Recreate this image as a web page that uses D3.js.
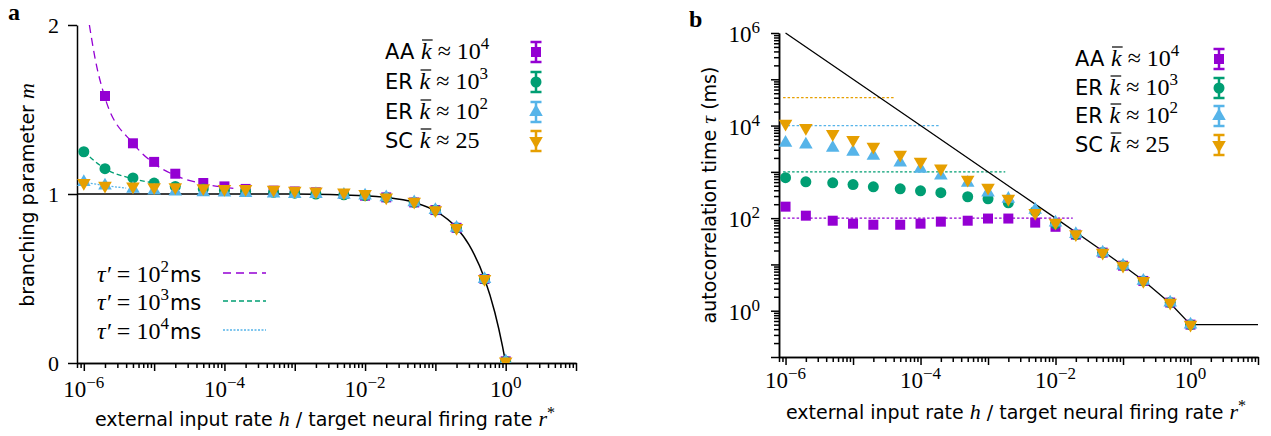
<!DOCTYPE html>
<html>
<head>
<meta charset="utf-8">
<script src="https://cdn.jsdelivr.net/npm/d3@7"></script>
<style>
    body { margin: 0; background: #fff; }
    .sans { font-family: "DejaVu Sans", sans-serif; }
    .serif { font-family: "Liberation Serif", serif; }
</style>
</head>
<body>
<svg id="chart" width="1271" height="436"></svg>
<script>
//^ DATA //
const hValues = [1e-6, 2e-6, 5e-6, 1e-5, 2e-5, 5e-5, 1e-4, 2e-4, 5e-4, 1e-3, 2e-3, 5e-3, 1e-2, 2e-2, 5e-2, 0.1, 0.2, 0.5, 1];

const seriesNames = ["AA", "ER", "ER", "SC"];
const seriesKBase = ["10", "10", "10", "25"];
const seriesKSup = ["4", "3", "2", ""];
const seriesColors = ["#9400d3", "#009e73", "#56b4e9", "#e69f00"];

// panel a: branching parameter m
const mAA = [2.4, 1.58, 1.30, 1.19, 1.12, 1.065, 1.045, 1.03, 1.02, 1.015, 1.01, 1.0, 0.99, 0.98, 0.95, 0.905, 0.80, 0.497, 0.01];
const mER3 = [1.25, 1.15, 1.095, 1.065, 1.045, 1.03, 1.02, 1.015, 1.01, 1.005, 1.0, 0.995, 0.99, 0.98, 0.95, 0.905, 0.80, 0.497, 0.01];
const mER2 = [1.07, 1.05, 1.03, 1.02, 1.015, 1.01, 1.008, 1.005, 1.003, 1.0, 1.0, 0.995, 0.99, 0.98, 0.95, 0.905, 0.80, 0.497, 0.01];
const mSC = [1.065, 1.05, 1.045, 1.04, 1.04, 1.035, 1.03, 1.03, 1.025, 1.02, 1.015, 1.01, 1.0, 0.98, 0.955, 0.905, 0.80, 0.497, 0.01];

// panel a: theory curves
const theoryAH = [8e-7, 1e-3, 1e-2, 2e-2, 5e-2, 0.1, 0.2, 0.3, 0.5, 0.7, 0.9, 1];
const theoryAM = [1.0, 1.0, 0.99, 0.98, 0.95, 0.9, 0.8, 0.7, 0.5, 0.3, 0.1, 0];
const tauPrimeExp = ["2", "3", "4"];
const dashH100 = [1.2e-6, 1.45e-6, 2e-6, 5e-6, 1e-5, 2e-5, 5e-5, 1e-4, 1.5e-4];
const dashM100 = [2.0, 1.8, 1.57, 1.30, 1.18, 1.11, 1.06, 1.04, 1.03];
const dashH1000 = [1e-6, 2e-6, 5e-6, 1e-5];
const dashM1000 = [1.25, 1.15, 1.09, 1.065];
const dashH10000 = [1e-6, 2e-6, 4e-6];
const dashM10000 = [1.07, 1.05, 1.035];

// panel b: autocorrelation time tau (ms)
const tAA = [177, 113, 88, 76, 72, 72, 76, 84, 88, 98, 98, 80, 65, 44, 18, 9.4, 4.4, 1.5, 0.5];
const tER3 = [750, 610, 580, 530, 475, 430, 390, 355, 290, 262, 215, 140, 75, 44, 18, 9.4, 4.4, 1.5, 0.5];
const tER2 = [4260, 3880, 3300, 2700, 2230, 1580, 1170, 830, 580, 355, 260, 151, 80, 45, 18, 9.4, 4.4, 1.5, 0.5];
const tSC = [11000, 8900, 6600, 4900, 3500, 2350, 1660, 1180, 680, 455, 262, 130, 80, 45, 18, 9.4, 4.4, 1.5, 0.5];

const theoryBH = [1e-6, 1e-4, 1e-2, 5e-2, 0.1, 0.2, 0.5, 1, 10];
const theoryBT = [1e6, 1e4, 100, 19.5, 9.5, 4.5, 1.45, 0.5, 0.5];
const plateauLevels = [1e2, 1e3, 1e4, 4e4];
const plateauEndH = [1.8e-2, 1.8e-3, 1.9e-4, 4.1e-5];

//^ SVG //
const svg = d3.select("#chart");

const xA = d3.scaleLog().domain([8e-7, 10]).range([77, 576]);
const yA = d3.scaleLinear().domain([0, 2]).range([363, 25]);
const xB = d3.scaleLog().domain([8e-7, 10]).range([779, 1258]);
const yB = d3.scaleLog().domain([0.1, 1e6]).range([357, 33]);

const isDecade = (v) => Math.abs(Math.log10(v) - Math.round(Math.log10(v))) < 1e-6;

const symbols = [d3.symbolSquare, d3.symbolCircle, d3.symbolTriangle, d3.symbolTriangle];
const symbolSizes = [100, 95, 80, 80];
const symbolPath = (i) => d3.symbol().type(symbols[i]).size(symbolSizes[i])();
const symbolTransform = (x, y, i) => `translate(${x},${y})` + (i === 3 ? " rotate(180)" : "");

function styleAxis(g) {
    g.selectAll("line, path").attr("stroke", "#000").attr("stroke-width", 1.5);
}

function powerLabel(g, x, y, exp, anchor) {
    const t = g.append("text").attr("class", "serif").attr("x", x).attr("y", y)
        .attr("text-anchor", anchor).attr("font-size", 23);
    t.append("tspan").text("10");
    t.append("tspan").attr("dy", -9).attr("font-size", 17).text(exp);
    return t;
}

function drawLogX(x, y0) {
    const all = x.ticks();
    const major = all.filter(isDecade);
    const minor = all.filter((v) => !isDecade(v));
    const g = svg.append("g").attr("transform", `translate(0,${y0})`);
    g.append("g").call(d3.axisBottom(x).tickValues(minor).tickSize(5).tickFormat("").tickSizeOuter(0));
    g.append("g").call(d3.axisBottom(x).tickValues(major).tickSize(8).tickFormat("").tickSizeOuter(0));
    styleAxis(g);
    return major.filter((v) => Math.round(Math.log10(v)) % 2 === 0);
}

//! PANEL A //
const labelsA = drawLogX(xA, 363);
labelsA.forEach((v) => {
    const e = Math.round(Math.log10(v));
    powerLabel(svg, xA(v), 397, e < 0 ? "\u2212" + -e : String(e), "middle");
});

const yAxisA = svg.append("g").attr("transform", "translate(77,0)")
    .call(d3.axisLeft(yA).tickValues([0, 1, 2]).tickFormat(d3.format("d"))
        .tickSize(9).tickPadding(9).tickSizeOuter(0));
styleAxis(yAxisA);
yAxisA.selectAll("text").attr("class", "serif").attr("font-size", 22).attr("fill", "#000").attr("dy", "0.36em");

svg.append("defs").append("clipPath").attr("id", "clipA")
    .append("rect").attr("x", 77).attr("y", 25).attr("width", 500).attr("height", 338);

const plotA = svg.append("g").attr("clip-path", "url(#clipA)");

const lineA = d3.line().x((d) => xA(d[0])).y((d) => yA(d[1])).curve(d3.curveMonotoneX);

plotA.append("path").datum(d3.zip(theoryAH, theoryAM)).attr("d", lineA)
    .attr("fill", "none").attr("stroke", "#000").attr("stroke-width", 1.5);

const dashStyles = ["8,5", "5,3", "2,1.5"];
const dashSets = [d3.zip(dashH100, dashM100), d3.zip(dashH1000, dashM1000), d3.zip(dashH10000, dashM10000)];
dashSets.forEach((set, i) => {
    plotA.append("path").datum(set).attr("d", lineA)
        .attr("fill", "none").attr("stroke", seriesColors[i])
        .attr("stroke-width", 1.3).attr("stroke-dasharray", dashStyles[i]);
});

[mAA, mER3, mER2, mSC].forEach((vals, i) => {
    plotA.append("g").selectAll("path").data(d3.zip(hValues, vals)).enter().append("path")
        .attr("d", symbolPath(i))
        .attr("transform", (d) => symbolTransform(xA(d[0]), yA(d[1]), i))
        .attr("fill", seriesColors[i]);
});

svg.append("text").attr("class", "serif").attr("x", 8).attr("y", 20)
    .attr("font-size", 24).attr("font-weight", "bold").text("a");

const yLabelA = svg.append("text").attr("class", "sans").attr("font-size", 19)
    .attr("transform", "translate(34,195) rotate(-90)").attr("text-anchor", "middle");
yLabelA.append("tspan").text("branching parameter ");
yLabelA.append("tspan").attr("class", "serif").attr("font-style", "italic").attr("font-size", 22).text("m");

function xLabel(cx, y) {
    const t = svg.append("text").attr("class", "sans").attr("font-size", 19)
        .attr("x", cx).attr("y", y).attr("text-anchor", "middle");
    t.append("tspan").text("external input rate ");
    t.append("tspan").attr("class", "serif").attr("font-style", "italic").attr("font-size", 22).text("h");
    t.append("tspan").text(" / target neural firing rate ");
    t.append("tspan").attr("class", "serif").attr("font-style", "italic").attr("font-size", 22).text("r");
    t.append("tspan").attr("class", "serif").attr("font-size", 16).attr("dy", -8).text("*");
}
xLabel(325, 426);

// legend: series
function seriesLegend(xText, xMarker, baselines) {
    seriesNames.forEach((name, i) => {
        const y = baselines[i];
        const t = svg.append("text").attr("class", "sans").attr("font-size", 21).attr("x", xText).attr("y", y);
        t.append("tspan").text(name + " ");
        t.append("tspan").attr("class", "serif").attr("font-style", "italic").attr("font-size", 24).text("k");
        t.append("tspan").attr("class", "serif").attr("font-size", 24).text(" \u2248 " + seriesKBase[i]);
        if (seriesKSup[i]) t.append("tspan").attr("class", "serif").attr("font-size", 17).attr("dy", -10).text(seriesKSup[i]);
        const kIndex = name.length + 1;
        const node = t.node();
        const x0 = node.getStartPositionOfChar(kIndex).x;
        const x1 = node.getEndPositionOfChar(kIndex).x;
        svg.append("line").attr("x1", x0 + 1).attr("x2", x1 + 1).attr("y1", y - 19).attr("y2", y - 19)
            .attr("stroke", "#000").attr("stroke-width", 1.2);

        const cy = y - 7;
        const g = svg.append("g").attr("stroke", seriesColors[i]).attr("stroke-width", 2.5);
        g.append("line").attr("x1", xMarker).attr("x2", xMarker).attr("y1", cy - 10).attr("y2", cy + 10);
        g.append("line").attr("x1", xMarker - 5.5).attr("x2", xMarker + 5.5).attr("y1", cy - 10).attr("y2", cy - 10);
        g.append("line").attr("x1", xMarker - 5.5).attr("x2", xMarker + 5.5).attr("y1", cy + 10).attr("y2", cy + 10);
        svg.append("path").attr("d", symbolPath(i)).attr("transform", symbolTransform(xMarker, cy, i))
            .attr("fill", seriesColors[i]);
    });
}
seriesLegend(385, 536, [59, 89, 119, 148]);

// legend: tau'
const tauBaselines = [282, 310, 339];
tauPrimeExp.forEach((e, i) => {
    const y = tauBaselines[i];
    const t = svg.append("text").attr("class", "serif").attr("font-size", 24).attr("x", 97).attr("y", y);
    t.append("tspan").attr("font-style", "italic").text("\u03c4\u2032");
    t.append("tspan").text(" = 10");
    t.append("tspan").attr("font-size", 17).attr("dy", -10).text(e);
    t.append("tspan").attr("class", "sans").attr("font-size", 21).attr("dy", 10).attr("dx", 1).text("ms");
    svg.append("line").attr("x1", 223).attr("x2", 266).attr("y1", y - 9).attr("y2", y - 9)
        .attr("stroke", seriesColors[i]).attr("stroke-width", 1.3).attr("stroke-dasharray", dashStyles[i]);
});

//! PANEL B //
const labelsB = drawLogX(xB, 357);
labelsB.forEach((v) => {
    const e = Math.round(Math.log10(v));
    powerLabel(svg, xB(v), 388, e < 0 ? "\u2212" + -e : String(e), "middle");
});

const yTicksB = yB.ticks();
const yMajorB = yTicksB.filter(isDecade);
const yMinorB = yTicksB.filter((v) => !isDecade(v));
const yAxisB = svg.append("g").attr("transform", "translate(779,0)");
yAxisB.append("g").call(d3.axisLeft(yB).tickValues(yMinorB).tickSize(5).tickFormat("").tickSizeOuter(0));
yAxisB.append("g").call(d3.axisLeft(yB).tickValues(yMajorB).tickSize(8).tickFormat("").tickSizeOuter(0));
styleAxis(yAxisB);
yMajorB.filter((v) => Math.round(Math.log10(v)) % 2 === 0 && v >= 1).forEach((v) => {
    powerLabel(svg, 760, yB(v) + 9, String(Math.round(Math.log10(v))), "end");
});

const lineB = d3.line().x((d) => xB(d[0])).y((d) => yB(d[1]));

plateauLevels.forEach((lvl, i) => {
    svg.append("line").attr("x1", xB(9.2e-7)).attr("x2", xB(plateauEndH[i]))
        .attr("y1", yB(lvl)).attr("y2", yB(lvl))
        .attr("stroke", seriesColors[i]).attr("stroke-width", 1.3).attr("stroke-dasharray", "2.5,2");
});

svg.append("path").datum(d3.zip(theoryBH, theoryBT)).attr("d", lineB)
    .attr("fill", "none").attr("stroke", "#000").attr("stroke-width", 1.3);

[tAA, tER3, tER2, tSC].forEach((vals, i) => {
    svg.append("g").selectAll("path").data(d3.zip(hValues, vals)).enter().append("path")
        .attr("d", symbolPath(i))
        .attr("transform", (d) => symbolTransform(xB(d[0]), yB(d[1]), i))
        .attr("fill", seriesColors[i]);
});

svg.append("text").attr("class", "serif").attr("x", 689).attr("y", 27)
    .attr("font-size", 24).attr("font-weight", "bold").text("b");

const yLabelB = svg.append("text").attr("class", "sans").attr("font-size", 19)
    .attr("transform", "translate(716,195) rotate(-90)").attr("text-anchor", "middle");
yLabelB.append("tspan").text("autocorrelation time ");
yLabelB.append("tspan").attr("class", "serif").attr("font-style", "italic").attr("font-size", 22).text("\u03c4");
yLabelB.append("tspan").text(" (ms)");

xLabel(1016, 419);
seriesLegend(1075, 1219, [66, 95, 123, 152]);
</script>
</body>
</html>
